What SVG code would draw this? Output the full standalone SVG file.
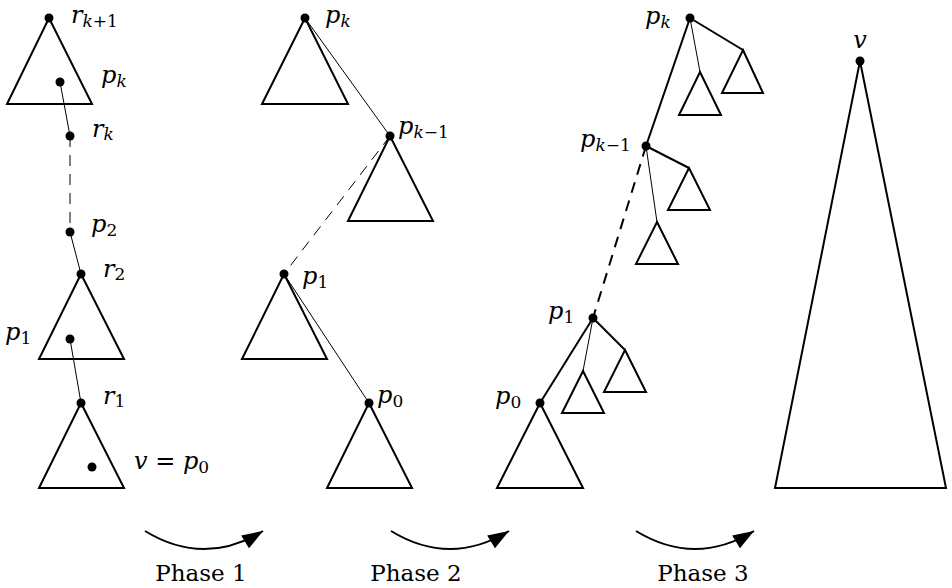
<svg xmlns="http://www.w3.org/2000/svg" width="952" height="588" viewBox="0 0 952 588">
<defs>
<style>
.tri{fill:none;stroke:#000;stroke-width:2;stroke-linejoin:miter}
.thin{fill:none;stroke:#000;stroke-width:1}
.thick{fill:none;stroke:#000;stroke-width:2}
.dash{stroke-dasharray:11 8}
.dot{fill:#000}
text{font-family:'DejaVu Serif',serif}
.m{font-style:italic;font-size:24px;fill:#000}
.s{font-size:17px}
.u{font-style:normal}
.ph{font-size:23px;fill:#000;text-anchor:middle}
.arc{fill:none;stroke:#000;stroke-width:2}
</style>
<marker id="ah" markerUnits="userSpaceOnUse" markerWidth="24" markerHeight="18" viewBox="0 -9 22 18" refX="21" refY="0" orient="auto">
<path d="M0,-7.5 L21,0 L0,7.5 z" fill="#000"/>
</marker>
</defs>
<rect width="952" height="588" fill="#fff"/>

<g id="connectors">
<line class="thin" x1="60" y1="82" x2="70" y2="136"/>
<line class="thin dash" x1="70" y1="136" x2="70" y2="232"/>
<line class="thin" x1="70" y1="232" x2="81" y2="274"/>
<line class="thin" x1="70" y1="339" x2="81" y2="403"/>
<line class="thin" x1="305" y1="18" x2="390" y2="136"/>
<line class="thin dash" x1="390" y1="136" x2="284" y2="274"/>
<line class="thin" x1="284" y1="274" x2="369" y2="403"/>
<line class="thick" x1="690" y1="18" x2="743" y2="50"/>
<line class="thin" x1="690" y1="18" x2="700" y2="72"/>
<line class="thick" x1="690" y1="18" x2="646" y2="146"/>
<line class="thick" x1="646" y1="146" x2="689" y2="168"/>
<line class="thin" x1="646" y1="146" x2="657" y2="222"/>
<line class="thick dash" x1="646" y1="146" x2="593" y2="318"/>
<line class="thick" x1="593" y1="318" x2="625" y2="350"/>
<line class="thin" x1="593" y1="318" x2="583" y2="371"/>
<line class="thick" x1="593" y1="318" x2="540" y2="403"/>
<path class="arc" d="M145,531 Q204,567 263,531" marker-end="url(#ah)"/>
<path class="arc" d="M391,531 Q450,567 509,531" marker-end="url(#ah)"/>
<path class="arc" d="M636,531 Q695,567 754,531" marker-end="url(#ah)"/>
</g>

<g id="c1-rk1">
<polygon class="tri" points="49,18 92,104 7,104"/>
<circle class="dot" cx="49" cy="18" r="4.5"/>
<text class="m" x="71" y="23">r<tspan class="s" dy="4">k</tspan><tspan class="s u">+1</tspan></text>
</g>
<g id="c1-pk">
<circle class="dot" cx="60" cy="82" r="4.5"/>
<text class="m" x="101" y="83">p<tspan class="s" dy="4">k</tspan></text>
</g>
<g id="c1-rk">
<circle class="dot" cx="70" cy="136" r="4.5"/>
<text class="m" x="92" y="137">r<tspan class="s" dy="3">k</tspan></text>
</g>
<g id="c1-p2">
<circle class="dot" cx="70" cy="232" r="4.5"/>
<text class="m" x="91" y="232">p<tspan class="s u" dy="4">2</tspan></text>
</g>
<g id="c1-r2">
<polygon class="tri" points="81,274 124,359 39,359"/>
<circle class="dot" cx="81" cy="274" r="4.5"/>
<text class="m" x="103" y="277">r<tspan class="s u" dy="3">2</tspan></text>
</g>
<g id="c1-p1">
<circle class="dot" cx="70" cy="339" r="4.5"/>
<text class="m" x="5" y="340">p<tspan class="s u" dy="4">1</tspan></text>
</g>
<g id="c1-r1">
<polygon class="tri" points="81,403 124,488 39,488"/>
<circle class="dot" cx="81" cy="403" r="4.5"/>
<text class="m" x="103" y="404">r<tspan class="s u" dy="3">1</tspan></text>
</g>
<g id="c1-v">
<circle class="dot" cx="92" cy="467" r="4.5"/>
<text class="m" x="134" y="469">v<tspan class="u"> = </tspan>p<tspan class="s u" dy="4">0</tspan></text>
</g>

<g id="c2-pk">
<polygon class="tri" points="305,18 348,104 262,104"/>
<circle class="dot" cx="305" cy="18" r="4.5"/>
<text class="m" x="325" y="23">p<tspan class="s" dy="4">k</tspan></text>
</g>
<g id="c2-pk1">
<polygon class="tri" points="390,136 433,221 348,221"/>
<circle class="dot" cx="390" cy="136" r="4.5"/>
<text class="m" x="398" y="134">p<tspan class="s" dy="4">k</tspan><tspan class="s u">−1</tspan></text>
</g>
<g id="c2-p1">
<polygon class="tri" points="284,274 327,359 242,359"/>
<circle class="dot" cx="284" cy="274" r="4.5"/>
<text class="m" x="302" y="284">p<tspan class="s u" dy="4">1</tspan></text>
</g>
<g id="c2-p0">
<polygon class="tri" points="369,403 412,488 327,488"/>
<circle class="dot" cx="369" cy="403" r="4.5"/>
<text class="m" x="377" y="403">p<tspan class="s u" dy="4">0</tspan></text>
</g>

<g id="c3-pk">
<circle class="dot" cx="690" cy="18" r="4.5"/>
<text class="m" x="645" y="24">p<tspan class="s" dy="4">k</tspan></text>
</g>
<g id="c3-t1"><polygon class="tri" points="743,50 763,93 722,93"/></g>
<g id="c3-t2"><polygon class="tri" points="700,72 721,115 679,115"/></g>
<g id="c3-pk1">
<circle class="dot" cx="646" cy="146" r="4.5"/>
<text class="m" x="580" y="147">p<tspan class="s" dy="4">k</tspan><tspan class="s u">−1</tspan></text>
</g>
<g id="c3-t3"><polygon class="tri" points="689,168 710,210 668,210"/></g>
<g id="c3-t4"><polygon class="tri" points="657,222 678,264 636,264"/></g>
<g id="c3-p1">
<circle class="dot" cx="593" cy="318" r="4.5"/>
<text class="m" x="548" y="319">p<tspan class="s u" dy="4">1</tspan></text>
</g>
<g id="c3-t5"><polygon class="tri" points="625,350 646,392 604,392"/></g>
<g id="c3-t6"><polygon class="tri" points="583,371 604,413 562,413"/></g>
<g id="c3-p0">
<polygon class="tri" points="540,403 583,488 497,488"/>
<circle class="dot" cx="540" cy="403" r="4.5"/>
<text class="m" x="495" y="404">p<tspan class="s u" dy="4">0</tspan></text>
</g>

<g id="c4-v">
<polygon class="tri" points="860,61 946,488 775,488"/>
<circle class="dot" cx="860" cy="61" r="4.5"/>
<text class="m" x="860" y="48" text-anchor="middle">v</text>
</g>

<g id="labels">
<text class="ph" x="201" y="581">Phase 1</text>
<text class="ph" x="416" y="581">Phase 2</text>
<text class="ph" x="703" y="581">Phase 3</text>
</g>
</svg>
